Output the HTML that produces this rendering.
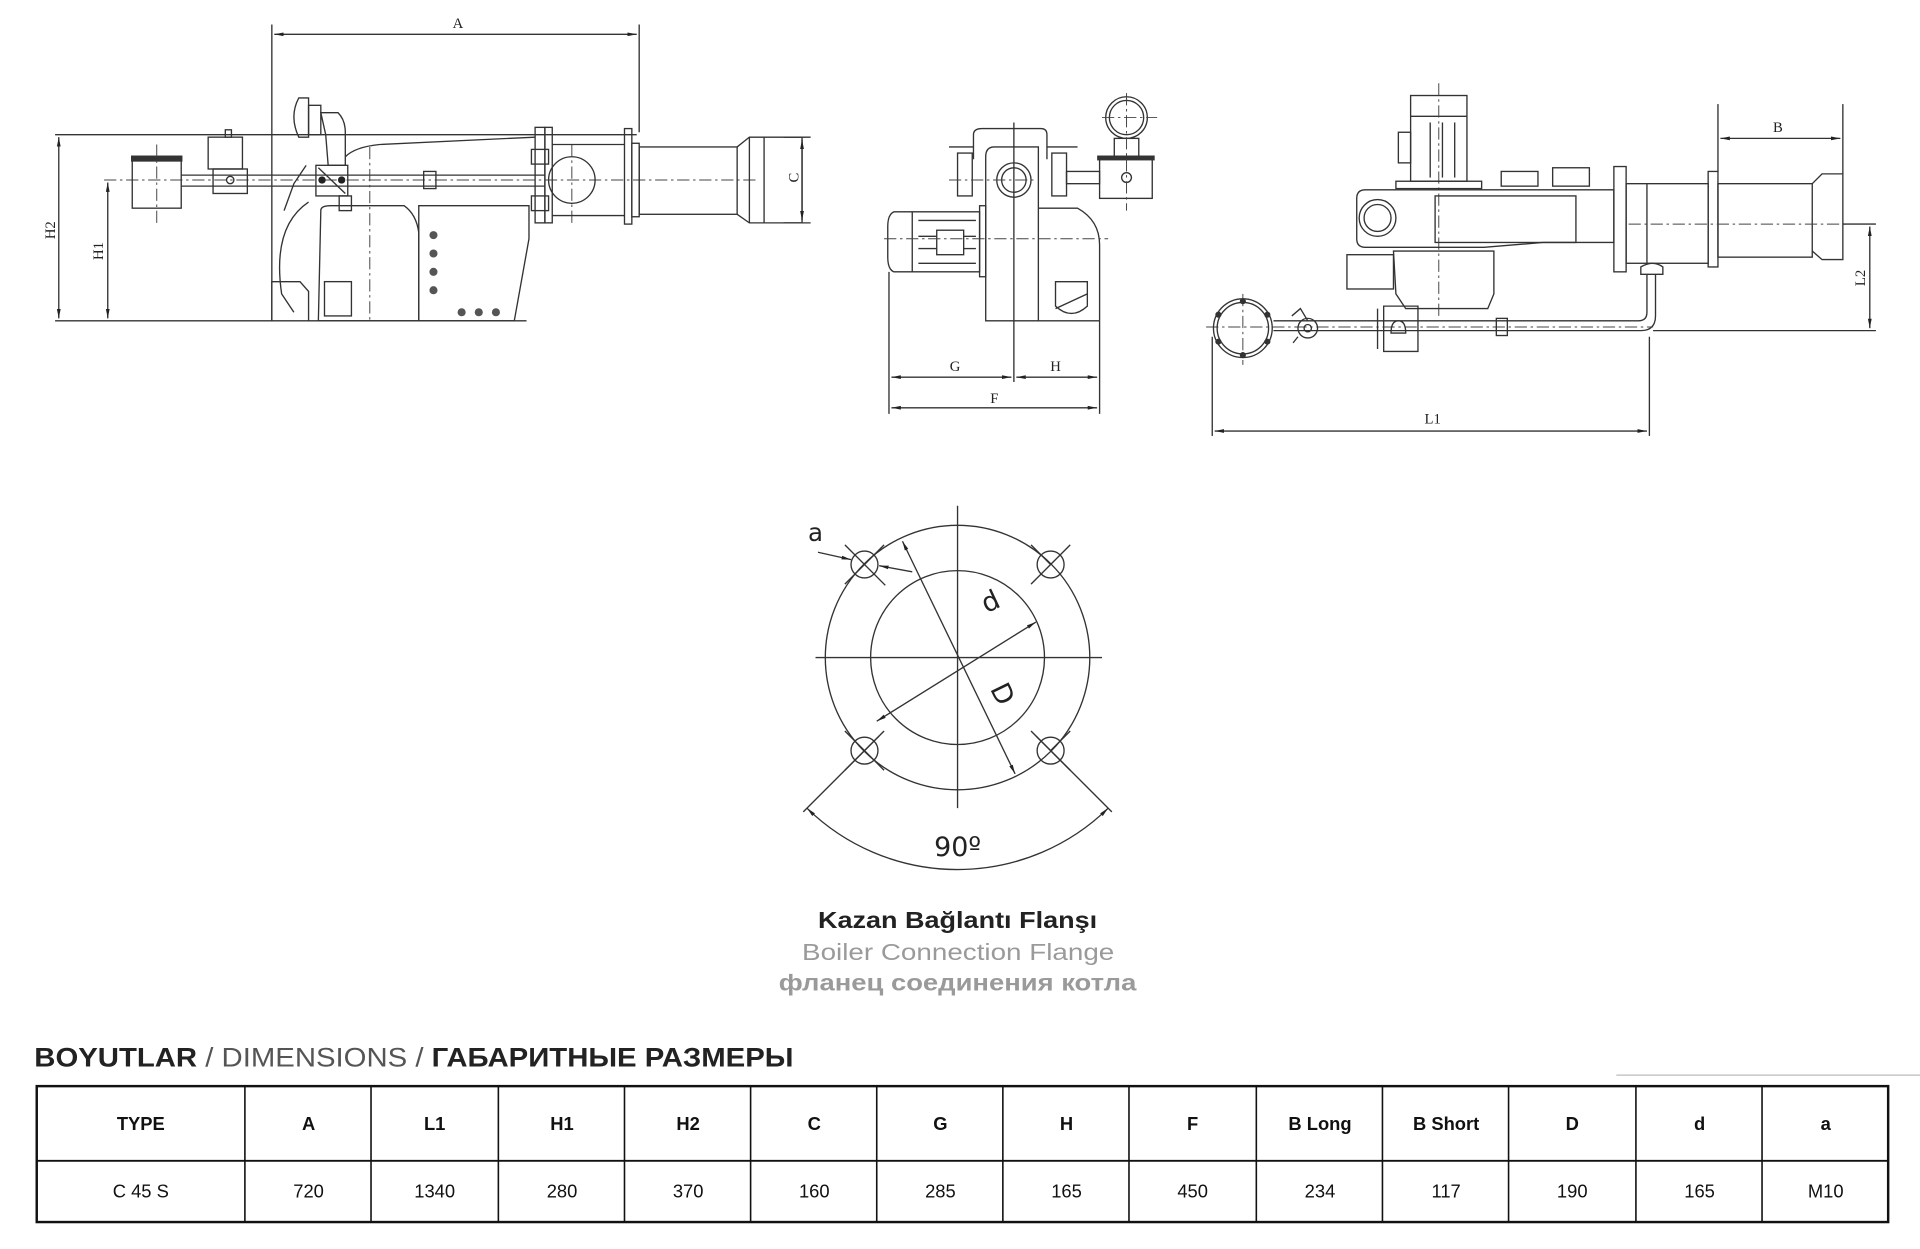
<!DOCTYPE html>
<html><head><meta charset="utf-8"><style>
html,body{margin:0;padding:0;background:#fff;}
svg{display:block;}
.l{stroke:#333;stroke-width:1.1;fill:none;}
.c{stroke:#444;stroke-width:0.8;fill:none;stroke-dasharray:10 3 2 3;}
.t{font-family:"Liberation Serif",serif;font-size:12px;fill:#222;}
.tb{font-family:"Liberation Sans",sans-serif;}
</style></head><body>
<svg width="1920" height="1249" viewBox="0 0 1568 1020" xmlns="http://www.w3.org/2000/svg">
<defs>
<marker id="ar" viewBox="0 0 10 10" refX="10" refY="5" markerWidth="7" markerHeight="7" orient="auto-start-reverse"><path d="M0,3 L10,5 L0,7 z" fill="#222"/></marker>
</defs>
<rect width="1568" height="1020" fill="#fff"/>

<!-- ===== LEFT VIEW ===== -->
<g>
<line class="l" x1="222" y1="20" x2="222" y2="262"/>
<line class="l" x1="522" y1="20" x2="522" y2="108"/>
<line class="l" x1="224" y1="28" x2="520" y2="28" marker-start="url(#ar)" marker-end="url(#ar)"/>
<text class="t" x="374" y="23" text-anchor="middle">A</text>
<line class="l" x1="45" y1="110" x2="520" y2="110"/>
<line class="l" x1="45" y1="262" x2="430" y2="262"/>
<line class="l" x1="48" y1="112" x2="48" y2="260" marker-start="url(#ar)" marker-end="url(#ar)"/>
<text class="t" x="0" y="0" text-anchor="middle" transform="translate(45,188) rotate(-90)">H2</text>
<line class="l" x1="88" y1="149" x2="88" y2="260" marker-start="url(#ar)" marker-end="url(#ar)"/>
<text class="t" x="0" y="0" text-anchor="middle" transform="translate(84,205) rotate(-90)">H1</text>
<line class="c" x1="85" y1="147" x2="620" y2="147"/>
<rect class="l" x="108" y="130" width="40" height="40"/>
<rect x="107" y="127" width="42" height="5" fill="#333"/>
<line class="c" x1="128" y1="118" x2="128" y2="184"/>
<line class="l" x1="148" y1="143" x2="445" y2="143"/>
<line class="l" x1="148" y1="152" x2="445" y2="152"/>
<rect class="l" x="170" y="112" width="28" height="26"/>
<rect class="l" x="184" y="106" width="5" height="6"/>
<rect class="l" x="174" y="138" width="28" height="20"/>
<circle class="l" cx="188" cy="147" r="3"/>
<path class="l" d="M244,80 Q236,95 244,112 L252,112 L252,80 Z"/>
<rect class="l" x="252" y="86" width="10" height="24"/>
<path class="l" d="M262,92 L276,92 Q282,98 282,108 L282,135 L268,135 L266,110 Z"/>
<rect class="l" x="258" y="135" width="26" height="25"/>
<line class="l" x1="260" y1="137" x2="282" y2="158"/>
<circle cx="263" cy="147" r="3" fill="#222"/><circle cx="279" cy="147" r="3" fill="#222"/>
<path class="l" d="M250,135 L240,150 L232,172"/>
<path class="l" d="M282,128 Q290,120 310,118 L437,112"/>
<line class="c" x1="302" y1="120" x2="302" y2="262"/>
<rect class="l" x="277" y="160" width="10" height="12"/>
<path class="l" d="M262,172 Q262,168 270,168 L330,168 Q340,175 342,190 L342,262 L260,262 Z"/>
<path class="l" d="M252,165 Q222,185 230,240 L240,255"/>
<path class="l" d="M222,262 L222,230 L245,230 L252,238 L252,262"/>
<rect class="l" x="265" y="230" width="22" height="28"/>
<path class="l" d="M342,168 L432,168 L432,195 L420,262 L342,262 Z"/>
<g fill="#555"><circle cx="354" cy="192" r="3.3"/><circle cx="354" cy="207" r="3.3"/><circle cx="354" cy="222" r="3.3"/><circle cx="354" cy="237" r="3.3"/><circle cx="377" cy="255" r="3.3"/><circle cx="391" cy="255" r="3.3"/><circle cx="405" cy="255" r="3.3"/></g>
<rect class="l" x="346" y="140" width="10" height="14"/>
<rect class="l" x="437" y="104" width="8" height="78"/>
<rect class="l" x="445" y="104" width="6" height="78"/>
<rect class="l" x="434" y="122" width="14" height="12"/>
<rect class="l" x="434" y="160" width="14" height="12"/>
<circle class="l" cx="467" cy="147" r="19"/>
<line class="c" x1="467" y1="118" x2="467" y2="183"/>
<line class="l" x1="451" y1="118" x2="510" y2="118"/>
<line class="l" x1="451" y1="176" x2="510" y2="176"/>
<rect class="l" x="510" y="105" width="6" height="78"/>
<rect class="l" x="516" y="117" width="6" height="60"/>
<rect class="l" x="522" y="120" width="80" height="55"/>
<path class="l" d="M602,120 L612,112 L655,112 L655,182 L612,182 L602,175"/>
<line class="l" x1="624" y1="112" x2="624" y2="182"/>
<line class="l" x1="612" y1="112" x2="612" y2="182"/>
<line class="l" x1="640" y1="112" x2="662" y2="112"/>
<line class="l" x1="640" y1="182" x2="662" y2="182"/>
<line class="l" x1="655" y1="114" x2="655" y2="180" marker-start="url(#ar)" marker-end="url(#ar)"/>
<text class="t" x="0" y="0" text-anchor="middle" transform="translate(652,145) rotate(-90)">C</text>
</g>

<!-- ===== MIDDLE VIEW ===== -->
<g>
<path class="l" d="M730,173 L800,173 L800,222 L730,222 Q725,220 725,210 L725,185 Q725,175 730,173 Z"/>
<line class="l" x1="745" y1="173" x2="745" y2="222"/>
<rect class="l" x="765" y="188" width="22" height="20"/>
<line class="l" x1="750" y1="180" x2="797" y2="180"/><line class="l" x1="750" y1="215" x2="797" y2="215"/>
<line class="l" x1="750" y1="193" x2="765" y2="193"/><line class="l" x1="787" y1="193" x2="797" y2="193"/>
<line class="l" x1="750" y1="203" x2="765" y2="203"/><line class="l" x1="787" y1="203" x2="797" y2="203"/>
<rect class="l" x="800" y="168" width="5" height="58"/>
<path class="l" d="M805,128 Q805,120 812,120 L848,120 L848,262 L805,262 Z"/>
<path class="l" d="M795,130 L795,110 Q795,105 802,105 L850,105 Q855,105 855,110 L855,130"/>
<line class="l" x1="848" y1="262" x2="898" y2="262"/>
<path class="l" d="M848,170 L880,170 Q898,180 898,200 L898,262"/>
<circle class="l" cx="828" cy="147" r="14"/><circle class="l" cx="828" cy="147" r="10"/>
<line class="l" x1="775" y1="120" x2="795" y2="120"/><line class="l" x1="855" y1="120" x2="880" y2="120"/>
<rect class="l" x="782" y="125" width="12" height="35"/><rect class="l" x="859" y="125" width="12" height="35"/>
<rect class="l" x="871" y="140" width="27" height="10"/>
<circle class="l" cx="920" cy="96" r="17"/><circle class="l" cx="920" cy="96" r="14"/>
<rect class="l" x="910" y="113" width="20" height="15"/>
<rect class="l" x="898" y="130" width="43" height="32"/>
<rect x="896" y="127" width="47" height="4" fill="#333"/>
<circle class="l" cx="920" cy="145" r="4"/>
<line class="c" x1="900" y1="96" x2="945" y2="96"/>
<line class="c" x1="920" y1="76" x2="920" y2="172"/>
<path class="l" d="M862,230 L888,230 L888,250 Q875,262 862,250 Z"/><line class="l" x1="862" y1="252" x2="888" y2="240"/>
<line class="c" x1="722" y1="195" x2="905" y2="195"/>
<line class="c" x1="775" y1="147" x2="845" y2="147"/>
<line class="l" x1="726" y1="222" x2="726" y2="338"/>
<line class="l" x1="828" y1="100" x2="828" y2="312"/>
<line class="l" x1="898" y1="262" x2="898" y2="338"/>
<line class="l" x1="728" y1="308" x2="826" y2="308" marker-start="url(#ar)" marker-end="url(#ar)"/>
<line class="l" x1="830" y1="308" x2="896" y2="308" marker-start="url(#ar)" marker-end="url(#ar)"/>
<line class="l" x1="728" y1="333" x2="896" y2="333" marker-start="url(#ar)" marker-end="url(#ar)"/>
<text class="t" x="780" y="303" text-anchor="middle">G</text>
<text class="t" x="862" y="303" text-anchor="middle">H</text>
<text class="t" x="812" y="329" text-anchor="middle">F</text>
</g>

<!-- ===== RIGHT VIEW ===== -->
<g>
<rect class="l" x="1152" y="78" width="46" height="70"/>
<line class="l" x1="1152" y1="95" x2="1198" y2="95"/>
<line class="l" x1="1168" y1="100" x2="1168" y2="145"/><line class="l" x1="1178" y1="100" x2="1178" y2="145"/><line class="l" x1="1188" y1="100" x2="1188" y2="145"/>
<rect class="l" x="1142" y="108" width="10" height="25"/>
<line class="c" x1="1175" y1="68" x2="1175" y2="260"/>
<rect class="l" x="1140" y="148" width="70" height="6"/>
<rect class="l" x="1226" y="140" width="30" height="12"/><rect class="l" x="1268" y="137" width="30" height="15"/>
<path class="l" d="M1115,155 L1318,155 L1318,198 L1260,198 L1212,202 L1115,202 Q1108,202 1108,195 L1108,162 Q1108,155 1115,155 Z"/>
<rect class="l" x="1172" y="160" width="115" height="38"/>
<circle class="l" cx="1125" cy="178" r="15"/><circle class="l" cx="1125" cy="178" r="11"/>
<rect class="l" x="1318" y="136" width="10" height="86"/>
<rect class="l" x="1328" y="150" width="67" height="65"/>
<line class="l" x1="1345" y1="150" x2="1345" y2="215"/>
<path class="l" d="M1340,218 Q1350,212 1358,218 L1358,224 L1340,224 Z"/>
<rect class="l" x="1395" y="140" width="8" height="78"/>
<rect class="l" x="1403" y="150" width="77" height="60"/>
<path class="l" d="M1480,150 L1488,142 L1505,142 L1505,212 L1488,212 L1480,205"/>
<line class="c" x1="1330" y1="183" x2="1510" y2="183"/>
<rect class="l" x="1100" y="208" width="38" height="28"/>
<path class="l" d="M1138,205 L1220,205 L1220,240 L1215,252 L1148,252 L1140,240 Z"/>
<line class="l" x1="1403" y1="85" x2="1403" y2="140"/><line class="l" x1="1505" y1="85" x2="1505" y2="142"/>
<line class="l" x1="1405" y1="113" x2="1503" y2="113" marker-start="url(#ar)" marker-end="url(#ar)"/>
<text class="t" x="1452" y="108" text-anchor="middle">B</text>
<line class="l" x1="1505" y1="183" x2="1532" y2="183"/>
<line class="l" x1="1350" y1="270" x2="1532" y2="270"/>
<line class="l" x1="1527" y1="185" x2="1527" y2="268" marker-start="url(#ar)" marker-end="url(#ar)"/>
<text class="t" x="0" y="0" text-anchor="middle" transform="translate(1523,227) rotate(-90)">L2</text>
<path class="l" d="M1040,262 L1338,262 Q1345,262 1345,255 L1345,224"/>
<path class="l" d="M1040,270 L1340,270 Q1352,270 1352,258 L1352,224"/>
<line class="c" x1="985" y1="267" x2="1350" y2="267"/>
<circle class="l" cx="1015" cy="268" r="24"/><circle class="l" cx="1015" cy="268" r="21"/>
<line class="c" x1="1015" y1="240" x2="1015" y2="298"/>
<g fill="#333"><circle cx="1015" cy="246" r="2.5"/><circle cx="1015" cy="290" r="2.5"/><circle cx="995" cy="257" r="2.5"/><circle cx="1035" cy="257" r="2.5"/><circle cx="995" cy="279" r="2.5"/><circle cx="1035" cy="279" r="2.5"/></g>
<circle class="l" cx="1068" cy="268" r="8"/><circle class="l" cx="1068" cy="268" r="3"/>
<path class="l" d="M1055,258 L1062,252 L1068,262 M1060,275 L1056,280"/>
<path class="l" d="M1125,252 L1125,285 M1130,250 L1158,250 L1158,287 L1130,287 Z"/>
<path class="l" d="M1136,272 Q1136,262 1142,262 Q1148,262 1148,272 Z"/>
<rect class="l" x="1222" y="260" width="9" height="14"/>
<line class="l" x1="990" y1="275" x2="990" y2="356"/>
<line class="l" x1="1347" y1="275" x2="1347" y2="356"/>
<line class="l" x1="992" y1="352" x2="1345" y2="352" marker-start="url(#ar)" marker-end="url(#ar)"/>
<text class="t" x="1170" y="346" text-anchor="middle">L1</text>
</g>

<!-- ===== FLANGE ===== -->
<g>
<circle class="l" cx="782" cy="537" r="108"/>
<circle class="l" cx="782" cy="537" r="71"/>
<line class="l" x1="666" y1="537" x2="900" y2="537"/>
<line class="l" x1="782" y1="413" x2="782" y2="660"/>
<g class="l">
<circle cx="706" cy="461" r="11"/><circle cx="858" cy="461" r="11"/><circle cx="706" cy="613" r="11"/><circle cx="858" cy="613" r="11"/>
<line x1="690" y1="445" x2="723" y2="478"/><line x1="690" y1="477" x2="722" y2="445"/>
<line x1="842" y1="477" x2="874" y2="445"/><line x1="842" y1="445" x2="858" y2="461"/>
<line x1="690" y1="597" x2="722" y2="629"/><line x1="722" y1="597" x2="690" y2="629"/>
<line x1="842" y1="597" x2="874" y2="629"/><line x1="874" y1="597" x2="858" y2="613"/>
</g>
<line class="l" x1="718" y1="601" x2="656" y2="663"/>
<line class="l" x1="846" y1="601" x2="908" y2="663"/>
<path class="l" d="M659,660 A176,176 0 0 0 905,660" marker-start="url(#ar)" marker-end="url(#ar)"/>
<line class="l" x1="716" y1="589" x2="846" y2="508" marker-start="url(#ar)" marker-end="url(#ar)"/>
<line class="l" x1="737" y1="442" x2="829" y2="632" marker-start="url(#ar)" marker-end="url(#ar)"/>
<line class="l" x1="668" y1="451" x2="695" y2="457" marker-end="url(#ar)"/>
<line class="l" x1="745" y1="467" x2="718" y2="462" marker-end="url(#ar)"/>
<text x="666" y="442" text-anchor="middle" font-family="DejaVu Sans, sans-serif" font-size="20" fill="#222">a</text>
<text x="0" y="0" text-anchor="middle" font-family="DejaVu Sans, sans-serif" font-size="22" fill="#222" transform="translate(812,498) rotate(-25)">d</text>
<text x="0" y="0" text-anchor="middle" font-family="DejaVu Sans, sans-serif" font-size="22" fill="#222" transform="translate(812,570) rotate(64)">D</text>
<text x="782" y="699" text-anchor="middle" font-family="DejaVu Sans, sans-serif" font-size="22" fill="#222">90º</text>
</g>

<!-- captions -->
<text class="tb" x="668" y="758" textLength="228" lengthAdjust="spacingAndGlyphs" font-size="19" font-weight="bold" fill="#222">Kazan Bağlantı Flanşı</text>
<text class="tb" x="655" y="784" textLength="255" lengthAdjust="spacingAndGlyphs" font-size="19" fill="#9a9a9a">Boiler Connection Flange</text>
<text class="tb" x="636" y="809" textLength="292" lengthAdjust="spacingAndGlyphs" font-size="19" font-weight="bold" fill="#9a9a9a">фланец соединения котла</text>

<text class="tb" x="28" y="871" textLength="620" lengthAdjust="spacingAndGlyphs" font-size="22" fill="#222"><tspan font-weight="bold">BOYUTLAR</tspan><tspan fill="#555"> / DIMENSIONS / </tspan><tspan font-weight="bold">ГАБАРИТНЫЕ РАЗМЕРЫ</tspan></text>
<line x1="1320" y1="878" x2="1568" y2="878" stroke="#bbb" stroke-width="1"/>

<!-- table -->
<g stroke="#111" fill="none">
<rect x="30" y="887" width="1512" height="111" stroke-width="2"/>
<line x1="30" y1="948" x2="1542" y2="948" stroke-width="1.5"/>
<g stroke-width="1.3">
<line x1="200" y1="887" x2="200" y2="998"/><line x1="303" y1="887" x2="303" y2="998"/><line x1="407" y1="887" x2="407" y2="998"/><line x1="510" y1="887" x2="510" y2="998"/><line x1="613" y1="887" x2="613" y2="998"/><line x1="716" y1="887" x2="716" y2="998"/><line x1="819" y1="887" x2="819" y2="998"/><line x1="922" y1="887" x2="922" y2="998"/><line x1="1026" y1="887" x2="1026" y2="998"/><line x1="1129" y1="887" x2="1129" y2="998"/><line x1="1232" y1="887" x2="1232" y2="998"/><line x1="1336" y1="887" x2="1336" y2="998"/><line x1="1439" y1="887" x2="1439" y2="998"/>
</g></g>
<g class="tb" font-size="15" font-weight="bold" fill="#111" text-anchor="middle">
<text x="115" y="923">TYPE</text><text x="252" y="923">A</text><text x="355" y="923">L1</text><text x="459" y="923">H1</text><text x="562" y="923">H2</text><text x="665" y="923">C</text><text x="768" y="923">G</text><text x="871" y="923">H</text><text x="974" y="923">F</text><text x="1078" y="923">B Long</text><text x="1181" y="923">B Short</text><text x="1284" y="923">D</text><text x="1388" y="923">d</text><text x="1491" y="923">a</text>
</g>
<g class="tb" font-size="15" fill="#111" text-anchor="middle">
<text x="115" y="978">C 45 S</text><text x="252" y="978">720</text><text x="355" y="978">1340</text><text x="459" y="978">280</text><text x="562" y="978">370</text><text x="665" y="978">160</text><text x="768" y="978">285</text><text x="871" y="978">165</text><text x="974" y="978">450</text><text x="1078" y="978">234</text><text x="1181" y="978">117</text><text x="1284" y="978">190</text><text x="1388" y="978">165</text><text x="1491" y="978">M10</text>
</g>
</svg>
</body></html>
